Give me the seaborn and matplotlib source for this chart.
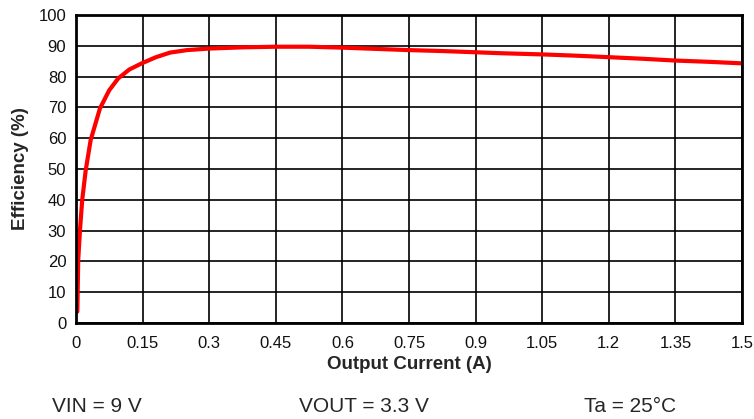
import numpy as np
import pandas as pd
import matplotlib
matplotlib.use("Agg")
import matplotlib.pyplot as plt
import seaborn as sns

# efficiency curve
current_a = [0.003, 0.005, 0.009, 0.014, 0.022, 0.033, 0.054, 0.075, 0.095, 0.12, 0.148,
             0.18, 0.212, 0.25, 0.299, 0.375, 0.45, 0.525, 0.6, 0.675, 0.75, 0.825,
             0.9, 0.955, 1.051, 1.125, 1.201, 1.275, 1.351, 1.425, 1.5]
efficiency = [3.7, 20.5, 30.2, 40, 49.7, 59.4, 69.7, 75.6, 79.4, 82.3, 84.3,
              86.3, 87.8, 88.6, 89.1, 89.5, 89.7, 89.7, 89.4, 89.0, 88.6, 88.3,
              87.9, 87.6, 87.2, 86.8, 86.3, 85.8, 85.2, 84.8, 84.3]
xticks = [0, 0.15, 0.3, 0.45, 0.6, 0.75, 0.9, 1.05, 1.2, 1.35, 1.5]
xtick_labels = ["0", "0.15", "0.3", "0.45", "0.6", "0.75", "0.9", "1.05", "1.2", "1.35", "1.5"]
yticks = list(range(0, 101, 10))
conditions = ["VIN = 9 V", "VOUT = 3.3 V", "Ta = 25°C"]

sns.set_theme(style="white")
plt.rcParams["font.family"] = ["Liberation Sans", "DejaVu Sans"]

df = pd.DataFrame({"current": current_a, "eff": efficiency})

fig = plt.figure(figsize=(7.54, 4.19), dpi=100)
ax = fig.add_axes([76 / 754, 1 - 323 / 419, 666 / 754, 308 / 419])
sns.lineplot(data=df, x="current", y="eff", color="#ff0000", linewidth=3, ax=ax)

ax.set_xlim(0, 1.5)
ax.set_ylim(0, 100)
ax.set_xticks(xticks)
ax.set_xticklabels(xtick_labels)
ax.set_yticks(yticks)
ax.grid(True, color="black", linewidth=1.2)
ax.set_axisbelow(True)
for s in ax.spines.values():
    s.set_color("black")
    s.set_linewidth(2)
ax.tick_params(length=0, labelsize=12, colors="#111111", pad=9)
ax.tick_params(axis="y", pad=7)
ax.set_xlabel("Output Current (A)", fontsize=13.5, fontweight="bold", labelpad=4)
ax.set_ylabel("Efficiency (%)", fontsize=13.5, fontweight="bold", labelpad=7)

for xpos, txt in zip([97, 364, 630], conditions):
    fig.text(xpos / 754, 1 - 406 / 419, txt, ha="center", va="center", fontsize=15)

fig.savefig("out.png", dpi=100)
